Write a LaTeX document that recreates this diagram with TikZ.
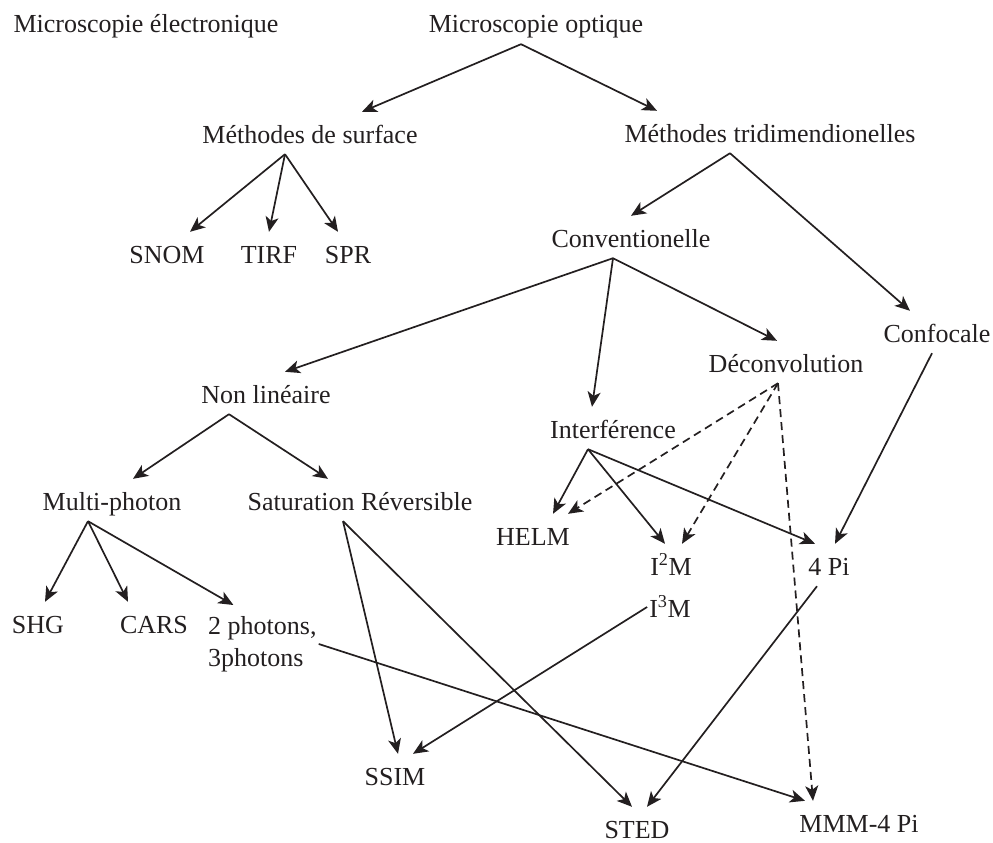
\documentclass[tikz,border=0pt]{standalone}
\usepackage{fontspec}
\setmainfont{Liberation Serif}
\usetikzlibrary{arrows.meta}
\definecolor{ink}{HTML}{231F20}

\begin{document}
\begin{tikzpicture}[x=1pt,y=-1pt,
    every node/.style={font=\fontsize{26}{32}\selectfont,text=ink},
    txt/.style={inner xsep=2pt,inner ysep=11pt},
    lbl/.style={txt,text height=20pt,text depth=0pt},
    arr/.style={-{Stealth[length=15pt,width=13pt,inset=4pt]},line width=1.7pt,draw=ink},
    darr/.style={arr,dash pattern=on 8pt off 5pt},
  ]
  \useasboundingbox (0,0) rectangle (993,843);

  % top level
  \node[lbl] (elec) at (146,23) {Microscopie électronique};
  \node[lbl] (mo) at (536,23) {Microscopie optique};

  \node[lbl] (msurf) at (310,133) {Méthodes de surface};
  \node[lbl] (mtri) at (770,132) {Méthodes tridimendionelles};

  \node[lbl] (snom) at (167,253) {SNOM};
  \node[lbl] (tirf) at (269,253) {TIRF};
  \node[lbl] (spr) at (348,253) {SPR};

  \node[lbl] (conv) at (631,237) {Conventionelle};
  \node[lbl] (confo) at (937,332) {Confocale};
  \node[lbl] (deconv) at (786,362) {Déconvolution};
  \node[lbl] (nonlin) at (266,393) {Non linéaire};
  \node[lbl] (interf) at (613,428) {Interférence};

  \node[lbl] (multi) at (112,500) {Multi-photon};
  \node[lbl] (satrev) at (360,500) {Saturation Réversible};

  \node[lbl] (helm) at (533,535) {HELM};
  \node[lbl] (itwo) at (671,565) {I\textsuperscript{2}M};
  \node[lbl] (fourpi) at (829,565) {4 Pi};
  \node[lbl] (ithree) at (670,607) {I\textsuperscript{3}M};

  \node[lbl] (shg) at (38,623) {SHG};
  \node[lbl] (cars) at (154,623) {CARS};
  \node[txt,anchor=north west,align=left] (twoph) at (206,605) {2 photons,\\3photons};

  \node[lbl] (ssim) at (395,775) {SSIM};
  \node[lbl] (sted) at (637,828) {STED};
  \node[lbl] (mmm) at (859,822) {MMM-4 Pi};

  % tree
  \draw[arr] ([xshift=-15pt]mo.south) -- ([xshift=52pt]msurf.north);
  \draw[arr] ([xshift=-15pt]mo.south) -- ([xshift=-113pt]mtri.north);

  \draw[arr] ([xshift=-25pt]msurf.south) -- ([xshift=23pt]snom.north);
  \draw[arr] ([xshift=-25pt]msurf.south) -- (tirf.north);
  \draw[arr] ([xshift=-25pt]msurf.south) -- ([xshift=-10pt]spr.north);

  \draw[arr] ([xshift=-40pt]mtri.south) -- (conv.north);
  \draw[arr] ([xshift=-40pt]mtri.south) -- ([xshift=-27pt]confo.north);

  \draw[arr] ([xshift=-18pt]conv.south) -- ([xshift=19pt]nonlin.north);
  \draw[arr] ([xshift=-18pt]conv.south) -- ([xshift=-21pt]interf.north);
  \draw[arr] ([xshift=-18pt]conv.south) -- ([xshift=-9pt]deconv.north);

  \draw[arr] ([xshift=-37pt]nonlin.south) -- ([xshift=21pt]multi.north);
  \draw[arr] ([xshift=-37pt]nonlin.south) -- ([xshift=-32pt]satrev.north);

  \draw[arr] ([xshift=-5pt]confo.south) -- ([xshift=6pt]fourpi.north);

  \draw[arr] ([xshift=-25pt]interf.south) -- ([xshift=20pt]helm.north);
  \draw[arr] ([xshift=-25pt]interf.south) -- ([xshift=-6pt]itwo.north);
  \draw[arr] ([xshift=-25pt]interf.south) -- ([xshift=-14pt]fourpi.north);

  \draw[darr] ([xshift=-8pt]deconv.south) -- ([xshift=35pt]helm.north);
  \draw[darr] ([xshift=-8pt]deconv.south) -- ([xshift=11pt]itwo.north);
  \draw[darr] ([xshift=-8pt]deconv.south) -- ([xshift=-46pt]mmm.north);

  \draw[arr] ([xshift=-24pt]multi.south) -- ([xshift=7pt]shg.north);
  \draw[arr] ([xshift=-24pt]multi.south) -- ([xshift=-26pt]cars.north);
  \draw[arr] ([xshift=-24pt]multi.south) -- ([xshift=-29pt]twoph.north);

  \draw[arr] ([xshift=-17pt]satrev.south) -- ([xshift=3pt]ssim.north);
  \draw[arr] ([xshift=-17pt]satrev.south) -- ([xshift=-5pt]sted.north);

  \draw[arr] (twoph.east) -- ([xshift=-54pt]mmm.north);
  \draw[arr] (ithree.west) -- ([xshift=18pt]ssim.north);
  \draw[arr] ([xshift=-12pt]fourpi.south) -- ([xshift=10pt]sted.north);
\end{tikzpicture}
\end{document}
